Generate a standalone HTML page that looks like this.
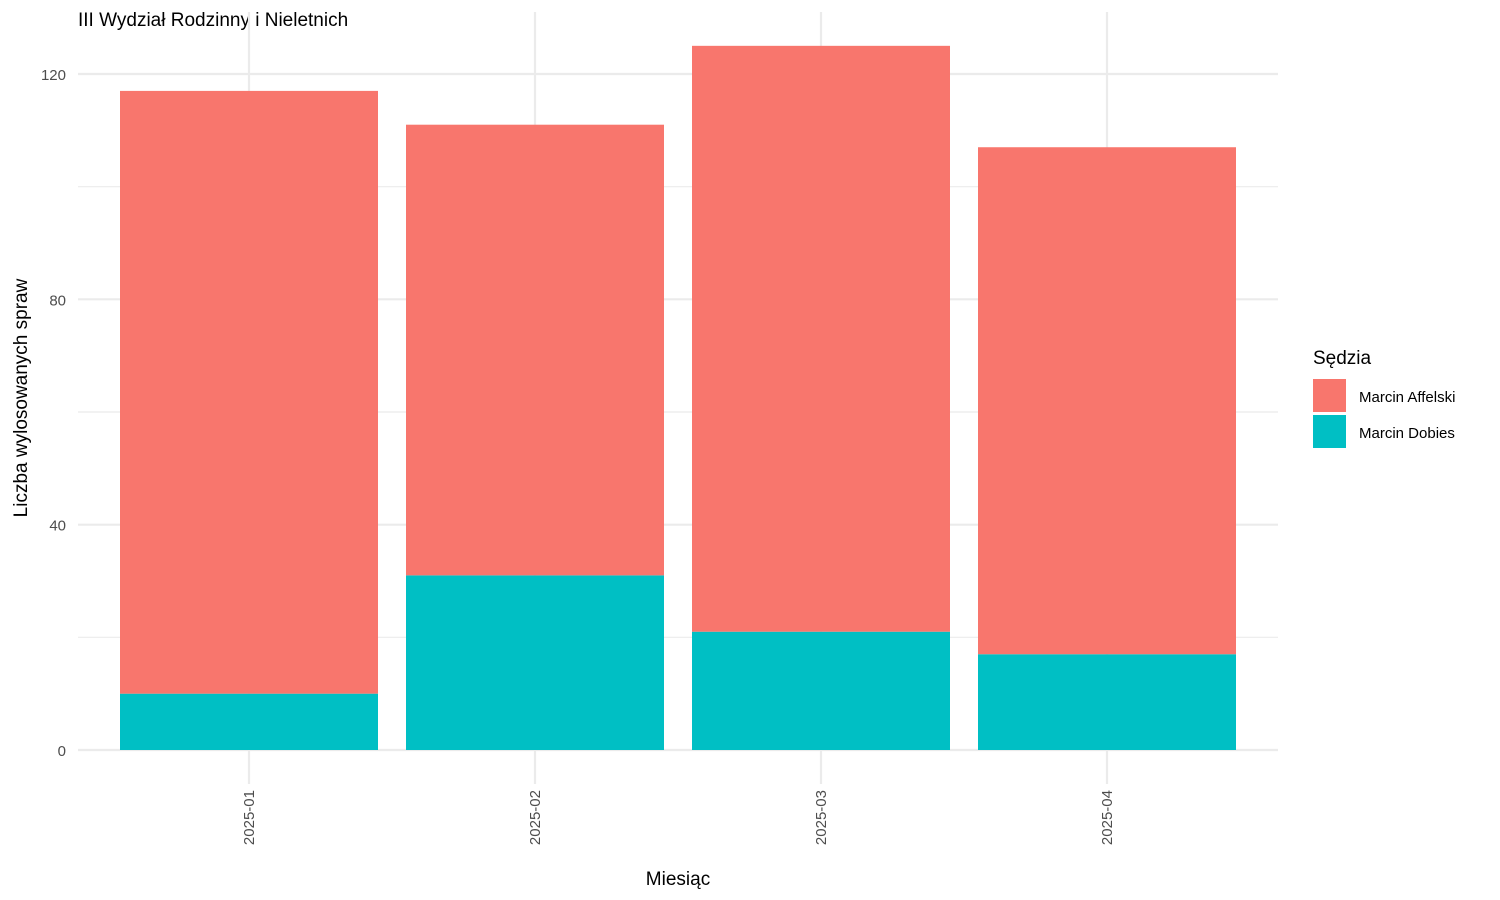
<!DOCTYPE html>
<html><head><meta charset="utf-8">
<style>
body{margin:0;background:#fff;}
svg{display:block;font-family:"Liberation Sans","DejaVu Sans",sans-serif;}
</style></head>
<body>
<svg id="chart" width="1500" height="900" viewBox="0 0 1500 900">
<text x="78" y="26" font-size="19" fill="#000">III Wydział Rodzinny i Nieletnich</text>
<g id="grid"></g>
<g id="bars"></g>
<g id="yticks"></g>
<g id="xticks"></g>
<text x="678" y="885" font-size="19" text-anchor="middle" fill="#000">Miesiąc</text>
<text transform="translate(27,398) rotate(-90)" font-size="19" text-anchor="middle" fill="#000">Liczba wylosowanych spraw</text>
<g>
<text x="1313" y="364" font-size="19" fill="#000">Sędzia</text>
<g>
<rect x="1313" y="379" width="33" height="33" fill="#F8766D"/>
<text x="1359" y="402" font-size="15" fill="#000">Marcin Affelski</text></g>
<g>
<rect x="1313" y="415" width="33" height="33" fill="#00BFC4"/>
<text x="1359" y="438" font-size="15" fill="#000">Marcin Dobies</text></g>
</g>
</svg>
<script>
const categories = ["2025-01","2025-02","2025-03","2025-04"];
const dobies = [10, 31, 21, 17];
const affelski = [107, 80, 104, 90];
const yTicks = [0, 40, 80, 120];
const yMinor = [20, 60, 100];

const NS = "http://www.w3.org/2000/svg";
const y = v => 750 - v * (676 / 120);
const step = 286, x0 = 249;
const x = i => x0 + i * step;
const bw = 258;
function mk(tag, attrs, parent){const e=document.createElementNS(NS,tag);for(const k in attrs)e.setAttribute(k,attrs[k]);parent.appendChild(e);return e;}
const grid=document.getElementById('grid'), bars=document.getElementById('bars'), yt=document.getElementById('yticks'), xt=document.getElementById('xticks');
yMinor.forEach(v=>{const l=mk('line',{x1:78,x2:1278,y1:y(v),y2:y(v),stroke:'#EBEBEB','stroke-width':1.2},grid);

});
yTicks.forEach(v=>{const l=mk('line',{x1:78,x2:1278,y1:y(v),y2:y(v),stroke:'#EBEBEB','stroke-width':2.2},grid);


const t=mk('text',{x:66,y:y(v)+6,'font-size':15,'text-anchor':'end',fill:'#4D4D4D'},yt);


t.textContent=v;});
categories.forEach((c,i)=>{const l=mk('line',{x1:x(i),x2:x(i),y1:12,y2:784,stroke:'#EBEBEB','stroke-width':2.2},grid);


const b1=mk('rect',{x:x(i)-bw/2,y:y(dobies[i]),width:bw,height:y(0)-y(dobies[i]),fill:'#00BFC4'},bars);


const top=dobies[i]+affelski[i];
const b2=mk('rect',{x:x(i)-bw/2,y:y(top),width:bw,height:y(dobies[i])-y(top),fill:'#F8766D'},bars);


const t=mk('text',{transform:`translate(${x(i)+5},790) rotate(-90)`,'font-size':15,'text-anchor':'end',fill:'#4D4D4D'},xt);


t.textContent=c;});
</script>
</body></html>
